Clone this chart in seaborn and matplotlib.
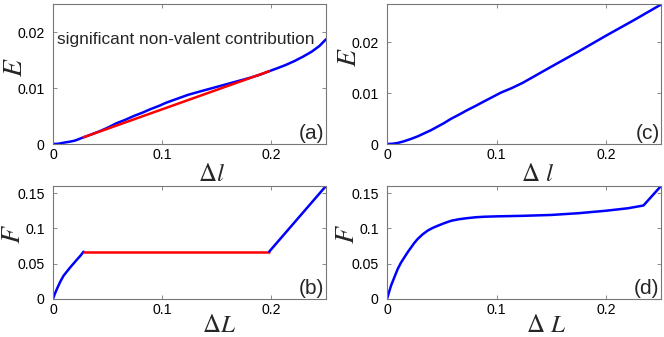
import matplotlib
matplotlib.use("Agg")
import matplotlib.pyplot as plt
import seaborn as sns

# %%
# values
# panel (a): E vs delta l
dl_a_blue = [0, 0.005, 0.01, 0.015, 0.02, 0.028, 0.035, 0.043, 0.05, 0.058, 0.066,
             0.074, 0.082, 0.089, 0.097, 0.104, 0.114, 0.124, 0.135, 0.15, 0.165,
             0.18, 0.19, 0.198, 0.205, 0.213, 0.221, 0.229, 0.237, 0.244, 0.25]
E_a_blue = [0, 0.00005, 0.00024, 0.0004, 0.0006, 0.0012, 0.0017, 0.0023, 0.0029,
            0.0037, 0.0043, 0.005, 0.0056, 0.0062, 0.0068, 0.0074, 0.0081, 0.0088,
            0.0094, 0.0102, 0.011, 0.0118, 0.0124, 0.013, 0.0135, 0.0141, 0.0148,
            0.0156, 0.0165, 0.0175, 0.0187]
dl_a_red = [0.028, 0.198]
E_a_red = [0.0012, 0.013]

# panel (b): F vs delta L
dL_b_blue1 = [0, 0.0015, 0.0036, 0.0065, 0.0097, 0.0128, 0.0158, 0.019, 0.0219, 0.025, 0.028]
F_b_blue1 = [0, 0.0065, 0.0142, 0.024, 0.033, 0.039, 0.0448, 0.0505, 0.0557, 0.061, 0.067]
dL_b_red = [0.028, 0.198]
F_b_red = [0.067, 0.067]
dL_b_blue2 = [0.198, 0.25]
F_b_blue2 = [0.067, 0.16]

# panel (c): E vs delta l
dl_c = [0, 0.005, 0.0097, 0.015, 0.0219, 0.028, 0.034, 0.04, 0.046, 0.052, 0.058,
        0.066, 0.0736, 0.081, 0.0888, 0.096, 0.104, 0.114, 0.1237, 0.15, 0.175,
        0.2, 0.225, 0.25]
E_c = [0, 0.00005, 0.0002, 0.0005, 0.001, 0.0015, 0.0021, 0.0027, 0.0034, 0.0041,
       0.0049, 0.0058, 0.0067, 0.0075, 0.0084, 0.0092, 0.0101, 0.011, 0.012, 0.0152,
       0.0182, 0.0213, 0.0243, 0.0274]

# panel (d): F vs delta L
dL_d = [0, 0.0037, 0.0068, 0.0098, 0.0128, 0.0159, 0.019, 0.022, 0.025, 0.028, 0.0325,
        0.037, 0.0415, 0.0465, 0.0525, 0.0587, 0.066, 0.074, 0.0815, 0.0893, 0.1,
        0.125, 0.15, 0.175, 0.2, 0.22, 0.234, 0.25]
F_d = [0, 0.0189, 0.031, 0.0425, 0.0515, 0.059, 0.0665, 0.073, 0.0795, 0.085, 0.0915,
       0.0967, 0.1005, 0.1038, 0.1075, 0.1108, 0.113, 0.1146, 0.1158, 0.1165, 0.117,
       0.1178, 0.119, 0.1215, 0.125, 0.1285, 0.1324, 0.16]

x_ticks = [0, 0.1, 0.2]
x_ticklabels = ["0", "0.1", "0.2"]
E_ticks = [0, 0.01, 0.02]
E_ticklabels = ["0", "0.01", "0.02"]
F_ticks = [0, 0.05, 0.1, 0.15]
F_ticklabels = ["0", "0.05", "0.1", "0.15"]
annotation = "significant non-valent contribution"

# %%
sns.set_theme(style="white")
plt.rcParams["font.family"] = ["Liberation Sans", "DejaVu Sans"]
plt.rcParams["mathtext.fontset"] = "stix"

fig = plt.figure(figsize=(6.64, 3.37), dpi=100)
ax_a = fig.add_axes([0.0798, 0.5727, 0.4111, 0.4154])
ax_b = fig.add_axes([0.0798, 0.1128, 0.4111, 0.3353])
ax_c = fig.add_axes([0.5828, 0.5727, 0.4127, 0.4154])
ax_d = fig.add_axes([0.5828, 0.1128, 0.4127, 0.3353])

blue = "#0000ff"
red = "#ff0000"
lw = 1.8

sns.lineplot(x=dl_a_blue, y=E_a_blue, ax=ax_a, color=blue, lw=lw, sort=False)
sns.lineplot(x=dl_a_red, y=E_a_red, ax=ax_a, color=red, lw=lw, sort=False)
sns.lineplot(x=dL_b_blue1, y=F_b_blue1, ax=ax_b, color=blue, lw=lw, sort=False)
sns.lineplot(x=dL_b_red, y=F_b_red, ax=ax_b, color=red, lw=lw, sort=False)
sns.lineplot(x=dL_b_blue2, y=F_b_blue2, ax=ax_b, color=blue, lw=lw, sort=False)
sns.lineplot(x=dl_c, y=E_c, ax=ax_c, color=blue, lw=lw, sort=False)
sns.lineplot(x=dL_d, y=F_d, ax=ax_d, color=blue, lw=lw, sort=False)

# axis, limits, ylabel (x, y) and xlabel (x, y) in axes coords
setup = [
    (ax_a, (0, 0.025), E_ticks, E_ticklabels, r"$E$", r"$\Delta l$", "(a)", (-0.09, 0.55), (0.58, -0.13)),
    (ax_b, (0, 0.16), F_ticks, F_ticklabels, r"$F$", r"$\Delta L$", "(b)", (-0.1, 0.575), (0.61, -0.125)),
    (ax_c, (0, 0.0275), E_ticks, E_ticklabels, r"$E$", r"$\Delta\ l$", "(c)", (-0.09, 0.62), (0.55, -0.13)),
    (ax_d, (0, 0.16), F_ticks, F_ticklabels, r"$F$", r"$\Delta\ L$", "(d)", (-0.1, 0.575), (0.58, -0.125)),
]
for ax, ylim, yt, ytl, ylab, xlab, tag, ylab_pos, xlab_pos in setup:
    ax.set_xlim(0, 0.25)
    ax.set_ylim(*ylim)
    ax.set_xticks(x_ticks)
    ax.set_xticklabels(x_ticklabels)
    ax.set_yticks(yt)
    ax.set_yticklabels(ytl)
    ax.tick_params(direction="in", length=3, width=0.6, colors="#777777",
                   labelcolor="black", labelsize=10.2, top=True, right=True,
                   bottom=True, left=True)
    ax.tick_params(axis="y", pad=6)
    ax.tick_params(axis="x", pad=3)
    for sp in ax.spines.values():
        sp.set_color("#777777")
        sp.set_linewidth(0.8)
    ax.set_ylabel(ylab, fontsize=20)
    ax.set_xlabel(xlab, fontsize=18)
    ax.yaxis.set_label_coords(*ylab_pos)
    ax.xaxis.set_label_coords(*xlab_pos)
    ax.text(0.995, 0.01, tag, transform=ax.transAxes, ha="right", va="bottom",
            fontsize=15)

ax_a.text(0.015, 0.743, annotation, transform=ax_a.transAxes, ha="left",
          va="center", fontsize=12.4)

fig.savefig("out.png", dpi=100)
